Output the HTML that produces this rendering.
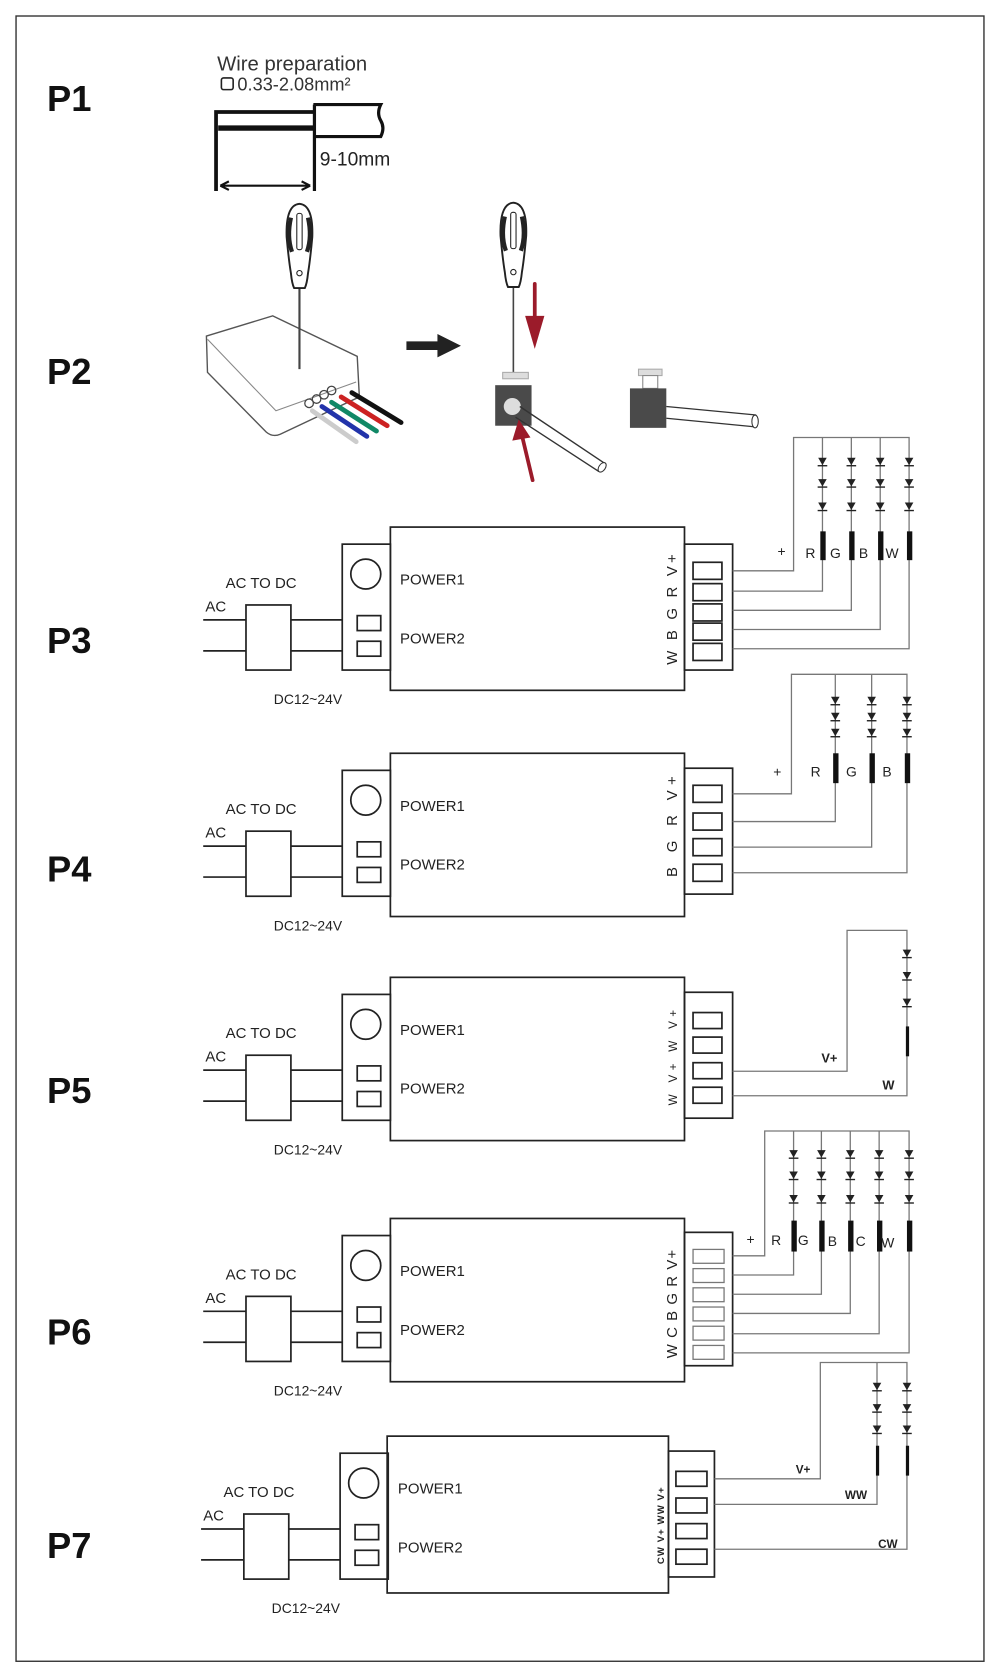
<!DOCTYPE html>
<html><head><meta charset="utf-8"><style>
html,body{margin:0;padding:0;background:#fff}
svg{display:block}
text{font-family:"Liberation Sans",Arial,sans-serif;fill:#222}
.b{fill:none;stroke:#222;stroke-width:1.6}
.w{fill:none;stroke:#777;stroke-width:1.2}
.lbl{font-size:14px}
.P{font-size:34px;font-weight:bold;fill:#111}
</style></head><body>
<svg width="1000" height="1673" viewBox="0 0 935 1568" preserveAspectRatio="none" xmlns="http://www.w3.org/2000/svg">
<defs>
<g id="d"><path d="M-4,-4 L4,-4 L0,3 Z" fill="#222"/><path d="M-4.5,3.5 H4.5" stroke="#222" stroke-width="1.3"/></g>
<g id="left">
<path class="b" d="M190,87 H230 M272,87 H320 M190,116 H230 M272,116 H320"/>
<rect class="b" x="230" y="73" width="42" height="61"/>
<rect class="b" x="320" y="16" width="45" height="118"/>
<circle class="b" cx="342" cy="44" r="14"/>
<rect class="b" x="334" y="83" width="22" height="14"/>
<rect class="b" x="334" y="107" width="22" height="14"/>
<text class="lbl" x="211" y="57" style="font-size:14px">AC TO DC</text>
<text class="lbl" x="192" y="79">AC</text>
<text class="lbl" x="256" y="166" style="font-size:13px">DC12~24V</text>
<text class="lbl" x="374" y="54">POWER1</text>
<text class="lbl" x="374" y="109">POWER2</text>
</g>
<g id="sd">
<path d="M-12,0 Q-13,-30 0,-31 Q13,-30 12,0 Q10,22 8,34 Q7,44 5,48 H-5 Q-7,44 -8,34 Q-10,22 -12,0Z" fill="#fff" stroke="#222" stroke-width="1.8"/>
<path d="M-8,-18 Q-12,0 -7,14 M8,-18 Q12,0 7,14" stroke="#222" stroke-width="4" fill="none"/>
<rect x="-2.5" y="-22" width="5" height="34" rx="2" fill="none" stroke="#222"/>
<circle cx="0" cy="34" r="2.5" fill="none" stroke="#222"/>
</g>
</defs>
<rect x="15" y="15" width="905" height="1542" fill="none" stroke="#333" stroke-width="1.3"/>

<text class="P" x="44" y="104">P1</text>
<text class="P" x="44" y="360">P2</text>
<text class="P" x="44" y="612">P3</text>
<text class="P" x="44" y="826">P4</text>
<text class="P" x="44" y="1034">P5</text>
<text class="P" x="44" y="1260">P6</text>
<text class="P" x="44" y="1460">P7</text>

<!-- P1 -->
<text x="203" y="66" style="font-size:19px;fill:#333">Wire preparation</text>
<rect x="207" y="73" width="11" height="11" rx="2" fill="none" stroke="#222" stroke-width="1.5"/>
<text x="222" y="85" style="font-size:17px;fill:#333">0.33-2.08mm²</text>
<path d="M202,179 V105 H293" fill="none" stroke="#111" stroke-width="3.5"/>
<path d="M204,120 H293" stroke="#111" stroke-width="5"/>
<path d="M293,98 H356 Q352,106 356,113 Q360,120 356,128 H293" fill="none" stroke="#111" stroke-width="3"/>
<path d="M294,98 V179" stroke="#111" stroke-width="3"/>
<path d="M206,174 H290 M206,174 l8,-4 M206,174 l8,4 M290,174 l-8,-4 M290,174 l-8,4" stroke="#111" stroke-width="2" fill="none"/>
<text x="299" y="155" style="font-size:18px;fill:#222">9-10mm</text>

<!-- P2 device -->
<path d="M193,315 L255,296 L334,334 L336,372 L262,407 Q255,410 249,405 L194,349 Z" fill="#fff" stroke="#555" stroke-width="1.3"/>
<path d="M194,318 L258,385 L333,358" fill="none" stroke="#888" stroke-width="1"/>
<g stroke-width="4.5" stroke-linecap="round">
<path d="M292,385 L333,414" stroke="#ccc"/>
<path d="M301,381 L343,409" stroke="#23a"/>
<path d="M310,377 L352,404" stroke="#186"/>
<path d="M319,372 L362,399" stroke="#c22"/>
<path d="M329,368 L375,396" stroke="#111"/>
</g>
<g fill="none" stroke="#444" stroke-width="1.2">
<circle cx="289" cy="378" r="4"/><circle cx="296" cy="374" r="4"/><circle cx="303" cy="370" r="4"/><circle cx="310" cy="366" r="4"/>
</g>
<path d="M280,240 V346" stroke="#444" stroke-width="2"/>
<use href="#sd" x="280" y="222"/>
<path d="M380,324 H412" stroke="#222" stroke-width="8"/>
<path d="M409,313 L431,324 L409,335Z" fill="#222"/>
<!-- screwdriver 2 -->
<path d="M480,240 V350" stroke="#444" stroke-width="1.5"/>
<use href="#sd" x="480" y="221"/>
<path d="M500,266 V305" stroke="#9b1b2a" stroke-width="3.5" stroke-linecap="round"/>
<path d="M491,296 L500,327 L509,296Z" fill="#9b1b2a"/>
<rect x="470" y="349" width="24" height="6" fill="#ddd" stroke="#aaa"/>
<rect x="463" y="361" width="34" height="38" fill="#4a4a4a"/>
<circle cx="479" cy="381" r="8" fill="#ddd"/>
<path d="M486,381 L565,434 M482,391 L560,442" stroke="#333" stroke-width="1.3"/>
<ellipse cx="563" cy="438" rx="3" ry="5" transform="rotate(35 563 438)" fill="#fff" stroke="#333"/>
<path d="M498,450 L488,408" stroke="#9b1b2a" stroke-width="3.5" stroke-linecap="round"/>
<path d="M479,413 L485,393 L496,410Z" fill="#9b1b2a"/>
<rect x="597" y="346" width="22" height="6" fill="#ddd" stroke="#aaa"/>
<rect x="601" y="352" width="14" height="12" fill="#fff" stroke="#888"/>
<rect x="589" y="364" width="34" height="37" fill="#4a4a4a"/>
<path d="M623,381 L707,389 M623,392 L705,400" stroke="#333" stroke-width="1.2"/>
<ellipse cx="706" cy="395" rx="3" ry="6" fill="#fff" stroke="#333"/>

<!-- P3 -->
<g transform="translate(0,494)"><use href="#left"/></g>
<rect class="b" x="365" y="494" width="275" height="153"/>
<rect class="b" x="640" y="510" width="45" height="118"/>
<g class="b"><rect x="648" y="527" width="27" height="16"/><rect x="648" y="547" width="27" height="16"/><rect x="648" y="566" width="27" height="16"/><rect x="648" y="584" width="27" height="16"/><rect x="648" y="603" width="27" height="16"/></g>
<text class="lbl" transform="translate(633,623) rotate(-90)" style="letter-spacing:3px">W B G R V+</text>
<path class="w" d="M685,535 H742 V410 H850 V608 H685 M685,554 H769 V410 M685,572 H796 V410 M685,590 H823 V410"/>
<g><use href="#d" x="769" y="433"/><use href="#d" x="769" y="453"/><use href="#d" x="769" y="475"/>
<use href="#d" x="796" y="433"/><use href="#d" x="796" y="453"/><use href="#d" x="796" y="475"/>
<use href="#d" x="823" y="433"/><use href="#d" x="823" y="453"/><use href="#d" x="823" y="475"/>
<use href="#d" x="850" y="433"/><use href="#d" x="850" y="453"/><use href="#d" x="850" y="475"/></g>
<g fill="#111"><rect x="767" y="498" width="5" height="27"/><rect x="794" y="498" width="5" height="27"/><rect x="821" y="498" width="5" height="27"/><rect x="848" y="498" width="5" height="27"/></g>
<g class="lbl" style="font-size:13px"><text x="727" y="521">+</text><text x="753" y="523">R</text><text x="776" y="523">G</text><text x="803" y="523">B</text><text x="828" y="523">W</text></g>

<!-- P4 -->
<g transform="translate(0,706)"><use href="#left"/></g>
<rect class="b" x="365" y="706" width="275" height="153"/>
<rect class="b" x="640" y="720" width="45" height="118"/>
<g class="b"><rect x="648" y="736" width="27" height="16"/><rect x="648" y="762" width="27" height="16"/><rect x="648" y="786" width="27" height="16"/><rect x="648" y="810" width="27" height="16"/></g>
<text class="lbl" transform="translate(633,822) rotate(-90)" style="letter-spacing:5px">B G  R V+</text>
<path class="w" d="M685,744 H740 V632 H848 V818 H685 M685,770 H781 V632 M685,794 H815 V632"/>
<g><use href="#d" x="781" y="657"/><use href="#d" x="781" y="672"/><use href="#d" x="781" y="687"/>
<use href="#d" x="815" y="657"/><use href="#d" x="815" y="672"/><use href="#d" x="815" y="687"/>
<use href="#d" x="848" y="657"/><use href="#d" x="848" y="672"/><use href="#d" x="848" y="687"/></g>
<g fill="#111"><rect x="779" y="706" width="5" height="28"/><rect x="813" y="706" width="5" height="28"/><rect x="846" y="706" width="5" height="28"/></g>
<g class="lbl" style="font-size:13px"><text x="723" y="728">+</text><text x="758" y="728">R</text><text x="791" y="728">G</text><text x="825" y="728">B</text></g>

<!-- P5 -->
<g transform="translate(0,916)"><use href="#left"/></g>
<rect class="b" x="365" y="916" width="275" height="153"/>
<rect class="b" x="640" y="930" width="45" height="118"/>
<g class="b"><rect x="648" y="949" width="27" height="15"/><rect x="648" y="972" width="27" height="15"/><rect x="648" y="996" width="27" height="15"/><rect x="648" y="1019" width="27" height="15"/></g>
<text class="lbl" transform="translate(633,1036) rotate(-90)" style="font-size:11px;letter-spacing:4px">W V+ W V+</text>
<path class="w" d="M685,1004 H792 V872 H848 V1027 H685"/>
<g><use href="#d" x="848" y="894"/><use href="#d" x="848" y="915"/><use href="#d" x="848" y="940"/></g>
<rect x="847" y="962" width="3" height="28" fill="#111"/>
<g class="lbl" style="font-size:12px;font-weight:bold"><text x="768" y="996">V+</text><text x="825" y="1021">W</text></g>

<!-- P6 -->
<g transform="translate(0,1142)"><use href="#left"/></g>
<rect class="b" x="365" y="1142" width="275" height="153"/>
<rect class="b" x="640" y="1155" width="45" height="125"/>
<g fill="none" stroke="#777" stroke-width="1.2"><rect x="648" y="1171" width="29" height="13"/><rect x="648" y="1189" width="29" height="13"/><rect x="648" y="1207" width="29" height="13"/><rect x="648" y="1225" width="29" height="13"/><rect x="648" y="1243" width="29" height="13"/><rect x="648" y="1261" width="29" height="13"/></g>
<text class="lbl" transform="translate(633,1273) rotate(-90)" style="letter-spacing:1px">W C B G R V+</text>
<path class="w" d="M685,1177 H715 V1060 H850 V1268 H685 M685,1195 H742 V1060 M685,1213 H768 V1060 M685,1231 H795 V1060 M685,1250 H822 V1060"/>
<g><use href="#d" x="742" y="1082"/><use href="#d" x="742" y="1102"/><use href="#d" x="742" y="1124"/>
<use href="#d" x="768" y="1082"/><use href="#d" x="768" y="1102"/><use href="#d" x="768" y="1124"/>
<use href="#d" x="795" y="1082"/><use href="#d" x="795" y="1102"/><use href="#d" x="795" y="1124"/>
<use href="#d" x="822" y="1082"/><use href="#d" x="822" y="1102"/><use href="#d" x="822" y="1124"/>
<use href="#d" x="850" y="1082"/><use href="#d" x="850" y="1102"/><use href="#d" x="850" y="1124"/></g>
<g fill="#111"><rect x="740" y="1144" width="5" height="29"/><rect x="766" y="1144" width="5" height="29"/><rect x="793" y="1144" width="5" height="29"/><rect x="820" y="1144" width="5" height="29"/><rect x="848" y="1144" width="5" height="29"/></g>
<g class="lbl" style="font-size:13px"><text x="698" y="1166">+</text><text x="721" y="1167">R</text><text x="746" y="1167">G</text><text x="774" y="1168">B</text><text x="800" y="1168">C</text><text x="824" y="1169">W</text></g>

<!-- P7 -->
<g transform="translate(-2,1346)"><use href="#left"/></g>
<rect class="b" x="362" y="1346" width="263" height="147"/>
<rect class="b" x="625" y="1360" width="43" height="118"/>
<g class="b"><rect x="632" y="1379" width="29" height="14"/><rect x="632" y="1404" width="29" height="14"/><rect x="632" y="1428" width="29" height="14"/><rect x="632" y="1452" width="29" height="14"/></g>
<text class="lbl" transform="translate(621,1466) rotate(-90)" style="font-size:9px;font-weight:bold;letter-spacing:1px">CW  V+  WW  V+</text>
<path class="w" d="M668,1386 H767 V1277 H848 V1452 H668 M668,1410 H820 V1277"/>
<g><use href="#d" x="820" y="1300"/><use href="#d" x="820" y="1320"/><use href="#d" x="820" y="1340"/>
<use href="#d" x="848" y="1300"/><use href="#d" x="848" y="1320"/><use href="#d" x="848" y="1340"/></g>
<g fill="#111"><rect x="819" y="1355" width="3" height="28"/><rect x="847" y="1355" width="3" height="28"/></g>
<g class="lbl" style="font-size:11px;font-weight:bold"><text x="744" y="1381">V+</text><text x="790" y="1405">WW</text><text x="821" y="1451">CW</text></g>
</svg>
</body></html>
